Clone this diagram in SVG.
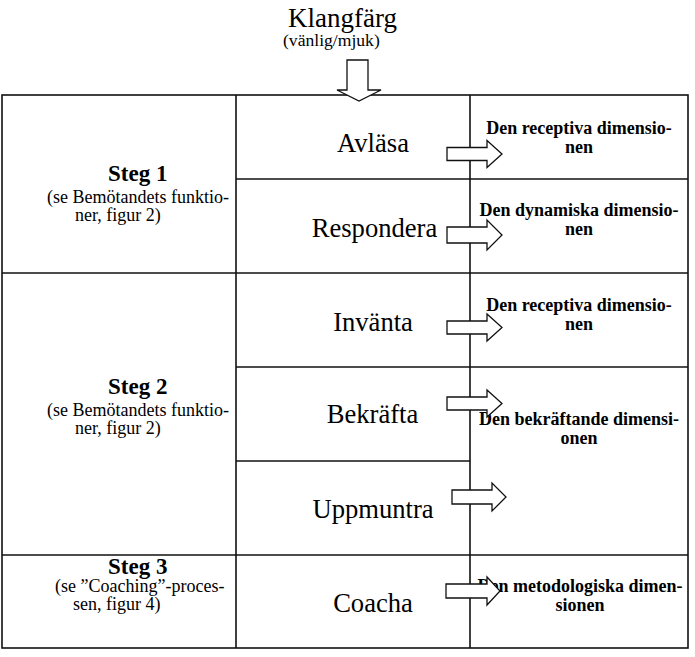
<svg xmlns="http://www.w3.org/2000/svg" width="695" height="657" viewBox="0 0 695 657">
<style>
.ln{stroke:#111;stroke-width:1.6;fill:none}
.t{font-family:"Liberation Serif","Times New Roman",serif;fill:#000}
.big{font-size:26.6px;text-anchor:middle}
.stg{font-size:23px;font-weight:bold}
.sub{font-size:18px}
.dim{font-size:18px;font-weight:bold;text-anchor:middle}
.arr{fill:#fff;stroke:#111;stroke-width:1.3;stroke-linejoin:miter}
</style>
<rect width="695" height="657" fill="#fff"/>
<g id="table">
<rect class="ln" x="2" y="95" width="686" height="553"/>
<line class="ln" x1="236" y1="95" x2="236" y2="648"/>
<line class="ln" x1="470" y1="95" x2="470" y2="648"/>
<line class="ln" x1="236" y1="179" x2="688" y2="179"/>
<line class="ln" x1="2" y1="273" x2="688" y2="273"/>
<line class="ln" x1="236" y1="367" x2="688" y2="367"/>
<line class="ln" x1="236" y1="461" x2="470" y2="461"/>
<line class="ln" x1="2" y1="555" x2="688" y2="555"/>
</g>
<g id="klangfarg">
<text class="t" x="288" y="26.5" font-size="27">Klangfärg</text>
<text class="t" x="283" y="46" font-size="17.6">(vänlig/mjuk)</text>
</g>
<g id="steg1">
<text class="t stg" x="108" y="180.5">Steg 1</text>
<text class="t sub" x="47" y="203">(se Bemötandets funktio-</text>
<text class="t sub" x="75" y="221">ner, figur 2)</text>
</g>
<g id="steg2">
<text class="t stg" x="108" y="394">Steg 2</text>
<text class="t sub" x="47" y="416">(se Bemötandets funktio-</text>
<text class="t sub" x="75" y="434">ner, figur 2)</text>
</g>
<g id="steg3">
<text class="t stg" x="108" y="574">Steg 3</text>
<text class="t sub" x="55" y="592">(se ”Coaching”-proces-</text>
<text class="t sub" x="73" y="610">sen, figur 4)</text>
</g>
<g id="avlasa"><text class="t big" x="373" y="151.5">Avläsa</text></g>
<g id="respondera"><text class="t big" x="374.5" y="236.5">Respondera</text></g>
<g id="invanta"><text class="t big" x="373" y="331">Invänta</text></g>
<g id="bekrafta"><text class="t big" x="372.5" y="423">Bekräfta</text></g>
<g id="uppmuntra"><text class="t big" x="373" y="518">Uppmuntra</text></g>
<g id="coacha"><text class="t big" x="373" y="612">Coacha</text></g>
<g id="dim-receptiva-1">
<text class="t dim" x="579" y="134">Den receptiva dimensio-</text>
<text class="t dim" x="579" y="153">nen</text>
</g>
<g id="dim-dynamiska">
<text class="t dim" x="579" y="216">Den dynamiska dimensio-</text>
<text class="t dim" x="579" y="235">nen</text>
</g>
<g id="dim-receptiva-2">
<text class="t dim" x="579" y="311">Den receptiva dimensio-</text>
<text class="t dim" x="579" y="330">nen</text>
</g>
<g id="dim-bekraftande">
<text class="t dim" x="579" y="425">Den bekräftande dimensi-</text>
<text class="t dim" x="579" y="444">onen</text>
</g>
<g id="dim-metodologiska">
<text class="t dim" x="580" y="592">Den metodologiska dimen-</text>
<text class="t dim" x="580" y="611">sionen</text>
</g>
<g id="connectors">
<path class="arr" d="M347,60 H368 V90 H381 L359,101 L337,90 H347 Z"/>
<path class="arr" d="M447,147.5 H487 V140.5 L502,154 L487,167.5 V160.5 H447 Z"/>
<path class="arr" d="M447,227 H487 V220 L502,235 L487,250 V243 H447 Z"/>
<path class="arr" d="M447,321 H487 V314 L502,327.5 L487,341 V334 H447 Z"/>
<path class="arr" d="M447,397 H487 V390 L502,403.5 L487,417 V410 H447 Z"/>
<path class="arr" d="M452,490 H492 V483 L506,497 L492,511 V504 H452 Z"/>
<path class="arr" d="M446,584 H487 V577 L500,591 L487,605 V598 H446 Z"/>
</g>
</svg>
